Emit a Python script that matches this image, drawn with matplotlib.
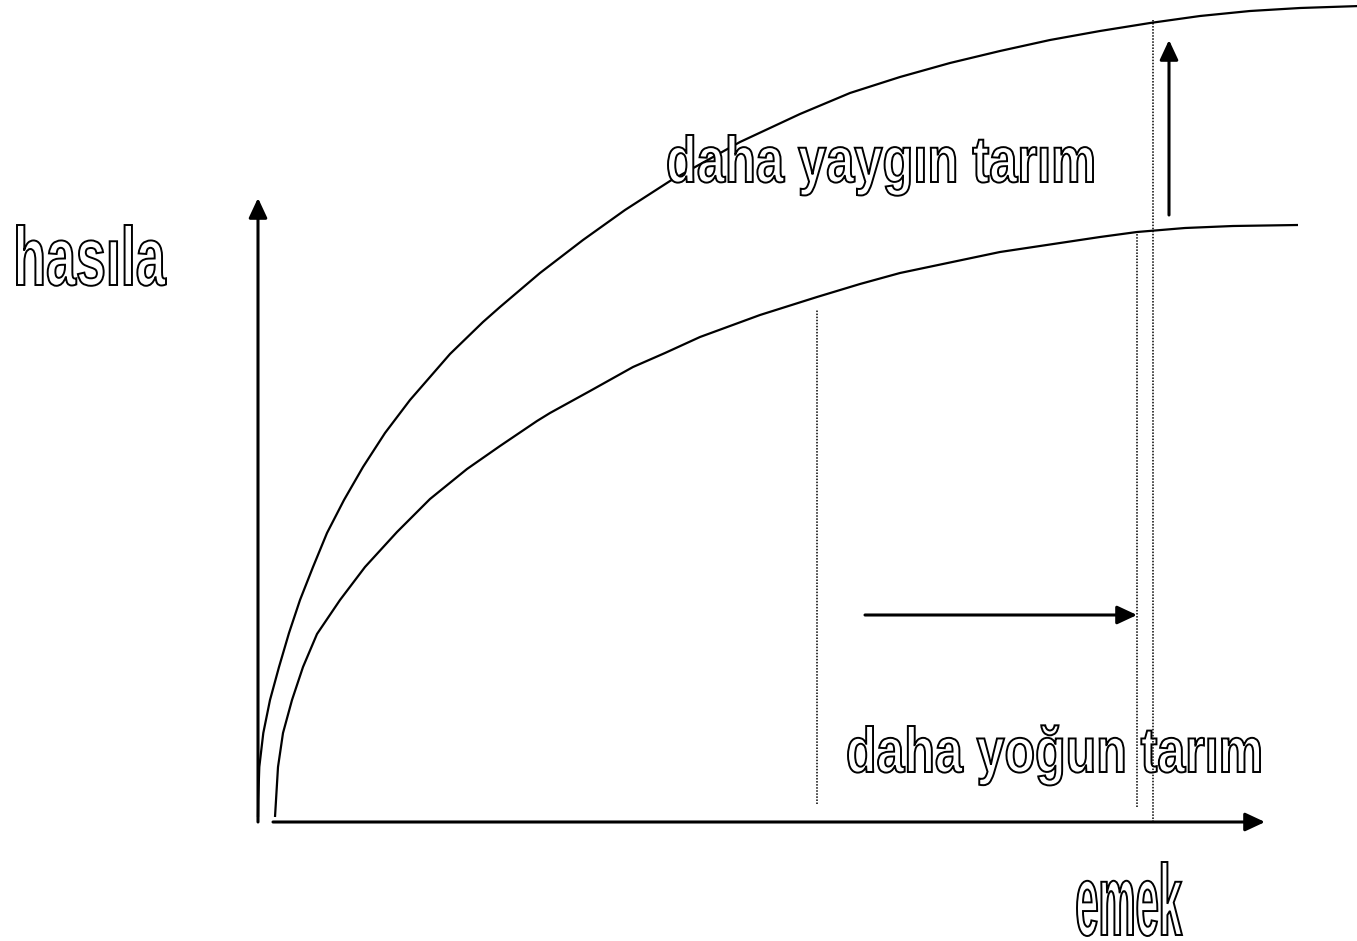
import matplotlib
matplotlib.use("Agg")
import matplotlib.pyplot as plt
import matplotlib.transforms as mtransforms
from matplotlib.textpath import TextPath
from matplotlib.font_manager import FontProperties
from matplotlib.patches import PathPatch

# production curves (labor -> output), origin at the axis corner
upper_labor = [0, 0.2, 1.3, 5.3, 12, 21, 31, 42, 55, 69, 86, 105, 127, 152, 192,
               225, 242, 282, 325, 367, 412, 482, 542, 592, 642, 692, 742, 792,
               842, 892, 942, 992, 1042, 1102]
upper_output = [5, 22, 55, 89, 122, 155, 189, 222, 255, 289, 322, 355, 389, 422,
                468, 500, 515, 549, 582, 612, 641, 680, 708, 729, 745, 759, 771,
                782, 791, 799, 806, 811, 814, 816]

lower_labor = [17, 20, 25, 34, 45, 59, 82, 107, 139, 172, 209, 242, 279, 292,
               332, 375, 407, 442, 502, 559, 602, 642, 742, 842, 879, 927, 975,
               1040]
lower_output = [5, 55, 89, 122, 155, 188, 222, 255, 290, 323, 353, 376, 401, 409,
                431, 455, 469, 485, 507, 525, 538, 549, 570, 585, 590, 594, 596,
                597]

# dotted guide lines: labor level, top, bottom
guide_x = [559, 879, 895]
guide_top = [512, 590, 802]
guide_bottom = [18, 15, 0]

# axis extents
y_axis_top = 624
x_axis_start, x_axis_end = 15, 1007

# shift arrows
h_arrow = (607, 879, 207)   # from x, to x, at y
v_arrow = (911, 607, 782)   # at x, from y, to y


def px(x, y):
    # picture pixel -> data coords
    return x - 258, 822 - y


def outlined_label(ax, s, x0, x1, top, base, family):
    fp = FontProperties(family=family, weight="bold")
    tp = TextPath((0, 0), s, size=1, prop=fp)
    bb = tp.get_extents()
    ref = TextPath((0, 0), "h", size=1, prop=fp).get_extents().y1
    X0, Y0 = px(x0, base)
    X1, Yt = px(x1, top)
    sx = (X1 - X0) / bb.width
    sy = (Yt - Y0) / ref
    tr = mtransforms.Affine2D().scale(sx, sy).translate(X0 - bb.x0 * sx, Y0)
    patch = PathPatch(tr.transform_path(tp), facecolor="white",
                      edgecolor="black", lw=1.4, zorder=3)
    ax.add_patch(patch)


fig = plt.figure(figsize=(13.57, 9.41), dpi=100)
fig.patch.set_facecolor("white")
ax = fig.add_axes([0, 0, 1, 1])
ax.set_xlim(-258, 1099)
ax.set_ylim(-119, 822)
ax.axis("off")

ax.plot(upper_labor, upper_output, color="black", lw=1.6, zorder=2,
        solid_capstyle="butt", solid_joinstyle="round")
ax.plot(lower_labor, lower_output, color="black", lw=1.6, zorder=2,
        solid_capstyle="butt", solid_joinstyle="round")

for gx, gt, gb in zip(guide_x, guide_top, guide_bottom):
    ax.plot([gx, gx], [gb, gt], color="black", lw=1.1,
            linestyle=(0, (1, 1)), zorder=4)

arrow_kw = dict(arrowstyle="-|>,head_length=0.6,head_width=0.28",
                mutation_scale=20, color="black", lw=2.2,
                shrinkA=0, shrinkB=0)

# axes
ax.annotate("", xy=(0, y_axis_top), xytext=(0, 0), arrowprops=arrow_kw)
ax.annotate("", xy=(x_axis_end, 0), xytext=(x_axis_start, 0), arrowprops=arrow_kw)

# shifts
ax.annotate("", xy=(h_arrow[1], h_arrow[2]), xytext=(h_arrow[0], h_arrow[2]),
            arrowprops=arrow_kw)
ax.annotate("", xy=(v_arrow[0], v_arrow[2]), xytext=(v_arrow[0], v_arrow[1]),
            arrowprops=arrow_kw)

narrow = ["Liberation Sans Narrow", "Liberation Sans", "DejaVu Sans"]
wide = ["Liberation Sans", "DejaVu Sans"]
outlined_label(ax, "hasıla", 17, 166, 225, 285, narrow)
outlined_label(ax, "emek", 1077, 1182, 862, 935, narrow)
outlined_label(ax, "daha yaygın tarım", 668, 1093, 135, 182, wide)
outlined_label(ax, "daha yoğun tarım", 848, 1260, 726, 772, wide)

fig.savefig("out.png", dpi=100, facecolor="white")
